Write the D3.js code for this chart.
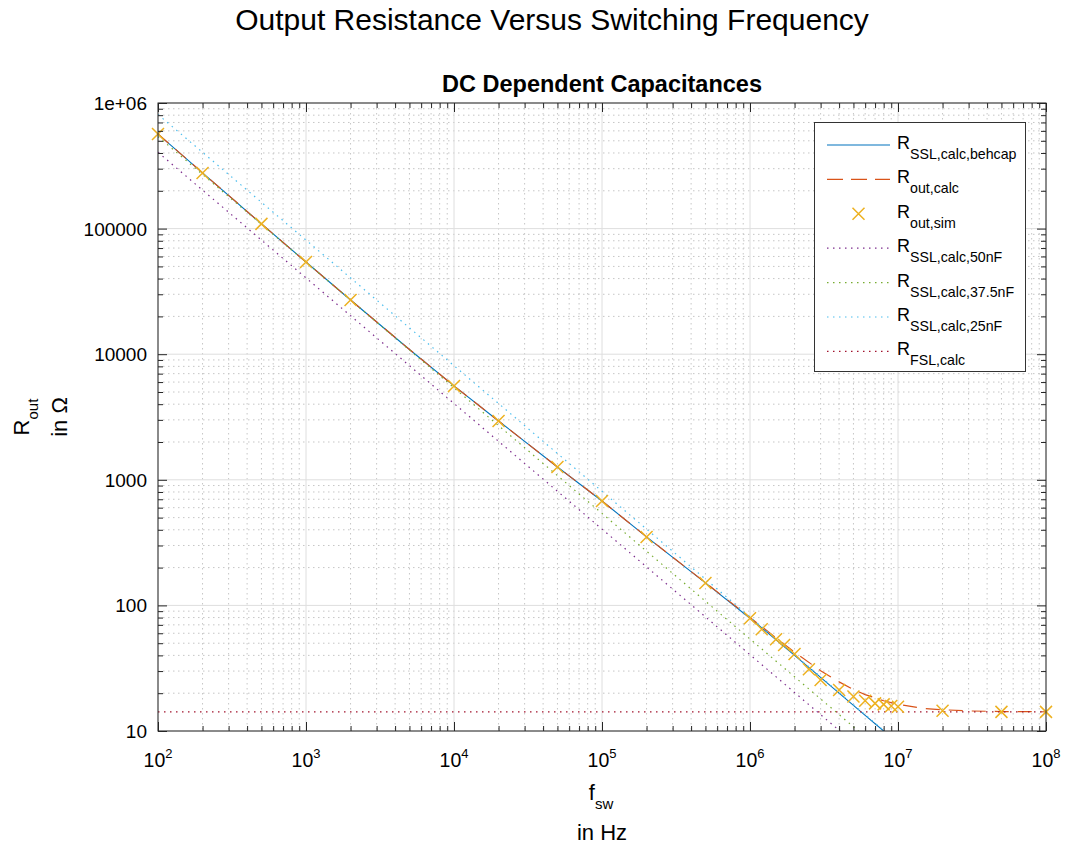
<!DOCTYPE html>
<html><head><meta charset="utf-8">
<script src="https://cdn.jsdelivr.net/npm/d3@7"></script>
<style>
body{margin:0;background:#fff}
text{font-family:"Liberation Sans",Arial,Helvetica,sans-serif;fill:#000}
</style>
</head><body>
<svg id="c" width="1068" height="848"></svg>
<script>
// ---------------- data ----------------
const freqCalc = [1e2,2e2,5e2,1e3,2e3,5e3,1e4,2e4,5e4,1e5,2e5,5e5,1e6,1.5e6,2e6,3e6,4e6,5e6,6e6,8e6,1e7];
const rBehcap  = [566000,278000,109000,54200,27000,10900,5590,2940,1265,678,351,151,79,53.3,40,26.7,20,16,13.3,10,8];

const freqOut  = [1e2,2e2,5e2,1e3,2e3,5e3,1e4,2e4,5e4,1e5,2e5,5e5,1e6,1.5e6,2e6,3e6,4e6,5e6,6e6,8e6,1e7,1.5e7,2e7,3e7,5e7,1e8];
const rOutCalc = [566000,278000,109000,54200,27000,10900,5590,2940,1265,678,351.3,151.7,80.3,55.2,42.4,30.2,24.6,21.4,19.5,17.4,16.3,15.1,14.77,14.45,14.29,14.22];

const freqSim  = [1e2,2e2,5e2,1e3,2e3,1e4,2e4,5e4,1e5,2e5,5e5,1e6,1.2e6,1.5e6,1.7e6,2e6,2.5e6,3e6,4e6,5e6,6e6,7e6,8e6,9e6,1e7,2e7,5e7,1e8];
const rOutSim  = [566000,277000,109000,54200,27000,5590,2938,1265,678,351,151,78.9,64.6,53.7,48.4,41.0,31.0,25.5,21.2,18.8,17.4,16.6,16.3,15.8,15.6,14.5,14.2,14.2];

const freqCap  = [1e2,1e3,1e4,1e5,1e6,1e7];
const r50nF    = [405000,40500,4050,405,40.5,4.05];
const r37nF    = [540000,54000,5400,540,54,5.4];
const r25nF    = [810000,81000,8100,810,81,8.1];

const freqFsl  = [1e2,1e8];
const rFsl     = [14.2,14.2];

const xMajor = [1e2,1e3,1e4,1e5,1e6,1e7,1e8];
const xTickExp = ["2","3","4","5","6","7","8"];
const yMajor = [10,100,1000,10000,100000,1000000];
const yTickLabels = ["10","100","1000","10000","100000","1e+06"];

const titleText = "Output Resistance Versus Switching Frequency";
const subtitleText = "DC Dependent Capacitances";

// ---------------- setup ----------------
const svg = d3.select("#c");
const L=158, R=1046, T=103, B=731;
const x = d3.scaleLog().domain([1e2,1e8]).range([L,R]);
const y = d3.scaleLog().domain([10,1e6]).range([B,T]);

const xMinor = [], yMinor = [];
for (let k=2;k<8;k++) for (let m=2;m<10;m++) xMinor.push(m*Math.pow(10,k));
for (let k=1;k<6;k++) for (let m=2;m<10;m++) yMinor.push(m*Math.pow(10,k));

const axisColor = "#262626";

// grid
const grid = svg.append("g");
grid.selectAll(".gxm").data(xMinor).enter().append("line")
  .attr("x1",d=>x(d)).attr("x2",d=>x(d)).attr("y1",T).attr("y2",B)
  .attr("stroke","#c6c6c6").attr("stroke-width",1).attr("stroke-dasharray","1.5,3.5");
grid.selectAll(".gym").data(yMinor).enter().append("line")
  .attr("y1",d=>y(d)).attr("y2",d=>y(d)).attr("x1",L).attr("x2",R)
  .attr("stroke","#c6c6c6").attr("stroke-width",1).attr("stroke-dasharray","1.5,3.5");
grid.selectAll(".gxM").data(xMajor).enter().append("line")
  .attr("x1",d=>x(d)).attr("x2",d=>x(d)).attr("y1",T).attr("y2",B)
  .attr("stroke","#dedede").attr("stroke-width",1);
grid.selectAll(".gyM").data(yMajor).enter().append("line")
  .attr("y1",d=>y(d)).attr("y2",d=>y(d)).attr("x1",L).attr("x2",R)
  .attr("stroke","#dedede").attr("stroke-width",1);

// clip
svg.append("clipPath").attr("id","clip").append("rect")
  .attr("x",L).attr("y",T).attr("width",R-L).attr("height",B-T);
const plot = svg.append("g").attr("clip-path","url(#clip)");

const line = d3.line().x(d=>x(d[0])).y(d=>y(d[1]));
const zip = (a,b)=>a.map((v,i)=>[v,b[i]]);

const series = [
  {f:freqCalc, r:rBehcap, color:"#0072BD", dash:null, w:1.1},
  {f:freqOut, r:rOutCalc, color:"#D95319", dash:"14,9", w:1.2},
];
series.forEach(s=>{
  plot.append("path").attr("d",line(zip(s.f,s.r))).attr("fill","none")
    .attr("stroke",s.color).attr("stroke-width",s.w).attr("stroke-dasharray",s.dash);
});

function xMark(g, cx, cy, s, color){
  g.append("path").attr("d",`M${cx-s},${cy-s}L${cx+s},${cy+s}M${cx-s},${cy+s}L${cx+s},${cy-s}`)
    .attr("stroke",color).attr("stroke-width",1.5).attr("fill","none");
}
const simG = svg.append("g");
zip(freqSim,rOutSim).forEach(d=>xMark(simG, x(d[0]), y(d[1]), 6, "#EDB120"));

const dotted = [
  {f:freqCap, r:r50nF, color:"#7E2F8E"},
  {f:freqCap, r:r37nF, color:"#77AC30"},
  {f:freqCap, r:r25nF, color:"#4DBEEE"},
  {f:freqFsl, r:rFsl, color:"#A2142F"},
];
dotted.forEach(s=>{
  plot.append("path").attr("d",line(zip(s.f,s.r))).attr("fill","none")
    .attr("stroke",s.color).attr("stroke-width",1.2).attr("stroke-dasharray","1.5,4.5");
});

// axes (ticks inward on all four sides)
function styleAxis(g){ g.select(".domain").remove(); g.selectAll("line").attr("stroke",axisColor); }
svg.append("g").attr("transform",`translate(0,${B})`).call(d3.axisBottom(x).tickValues(xMajor).tickSize(-9).tickFormat("")).call(styleAxis);
svg.append("g").attr("transform",`translate(0,${B})`).call(d3.axisBottom(x).tickValues(xMinor).tickSize(-5).tickFormat("")).call(styleAxis);
svg.append("g").attr("transform",`translate(0,${T})`).call(d3.axisTop(x).tickValues(xMajor).tickSize(-9).tickFormat("")).call(styleAxis);
svg.append("g").attr("transform",`translate(0,${T})`).call(d3.axisTop(x).tickValues(xMinor).tickSize(-5).tickFormat("")).call(styleAxis);
svg.append("g").attr("transform",`translate(${L},0)`).call(d3.axisLeft(y).tickValues(yMajor).tickSize(-9).tickFormat("")).call(styleAxis);
svg.append("g").attr("transform",`translate(${L},0)`).call(d3.axisLeft(y).tickValues(yMinor).tickSize(-5).tickFormat("")).call(styleAxis);
svg.append("g").attr("transform",`translate(${R},0)`).call(d3.axisRight(y).tickValues(yMajor).tickSize(-9).tickFormat("")).call(styleAxis);
svg.append("g").attr("transform",`translate(${R},0)`).call(d3.axisRight(y).tickValues(yMinor).tickSize(-5).tickFormat("")).call(styleAxis);
svg.append("rect").attr("x",L).attr("y",T).attr("width",R-L).attr("height",B-T)
  .attr("fill","none").attr("stroke",axisColor).attr("stroke-width",1);

// tick labels
yMajor.forEach((v,i)=>{
  svg.append("text").attr("x",147).attr("y",y(v)+7).attr("text-anchor","end")
    .attr("font-size",19).attr("fill","#262626").text(yTickLabels[i]);
});
xMajor.forEach((v,i)=>{
  const t = svg.append("text").attr("x",x(v)).attr("y",767).attr("text-anchor","middle").attr("fill","#262626");
  t.append("tspan").attr("font-size",19.5).text("10");
  t.append("tspan").attr("font-size",13).attr("dy",-9).text(xTickExp[i]);
});

// titles
svg.append("text").attr("x",552).attr("y",30).attr("text-anchor","middle").attr("font-size",30).text(titleText);
svg.append("text").attr("x",602).attr("y",92).attr("text-anchor","middle").attr("font-size",23.5).attr("font-weight","bold").text(subtitleText);

// axis labels
const xl = svg.append("text").attr("x",601).attr("y",800).attr("text-anchor","middle");
xl.append("tspan").attr("font-size",22).text("f");
xl.append("tspan").attr("font-size",15).attr("dy",9).text("sw");
svg.append("text").attr("x",602).attr("y",840).attr("text-anchor","middle").attr("font-size",22).text("in Hz");

const yl = svg.append("text").attr("transform","translate(29,417) rotate(-90)").attr("text-anchor","middle");
yl.append("tspan").attr("font-size",22).text("R");
yl.append("tspan").attr("font-size",15).attr("dy",9).text("out");
svg.append("text").attr("transform","translate(67,417) rotate(-90)").attr("text-anchor","middle").attr("font-size",22).text("in Ω");

// legend
const legendItems = [
  {sub:"SSL,calc,behcap", color:"#0072BD", type:"line", dash:null},
  {sub:"out,calc", color:"#D95319", type:"line", dash:"16,8"},
  {sub:"out,sim", color:"#EDB120", type:"marker"},
  {sub:"SSL,calc,50nF", color:"#7E2F8E", type:"line", dash:"1.5,4.5"},
  {sub:"SSL,calc,37.5nF", color:"#77AC30", type:"line", dash:"1.5,4.5"},
  {sub:"SSL,calc,25nF", color:"#4DBEEE", type:"line", dash:"1.5,4.5"},
  {sub:"FSL,calc", color:"#A2142F", type:"line", dash:"1.5,4.5"},
];
const lg = svg.append("g");
lg.append("rect").attr("x",814.5).attr("y",122.5).attr("width",211).attr("height",249)
  .attr("fill","#fff").attr("stroke","#333").attr("stroke-width",1);
legendItems.forEach((it,i)=>{
  const ly = 145 + i*34.4;
  if (it.type==="line"){
    lg.append("line").attr("x1",827).attr("x2",890).attr("y1",ly).attr("y2",ly)
      .attr("stroke",it.color).attr("stroke-width",1.2)
      .attr("stroke-dasharray",it.dash);
  } else {
    xMark(lg, 858.5, ly, 6, it.color);
  }
  const t = lg.append("text").attr("x",897).attr("y",ly+4);
  t.append("tspan").attr("font-size",18).text("R");
  t.append("tspan").attr("font-size",14.2).attr("dy",10).text(it.sub);
});
</script>
</body></html>
